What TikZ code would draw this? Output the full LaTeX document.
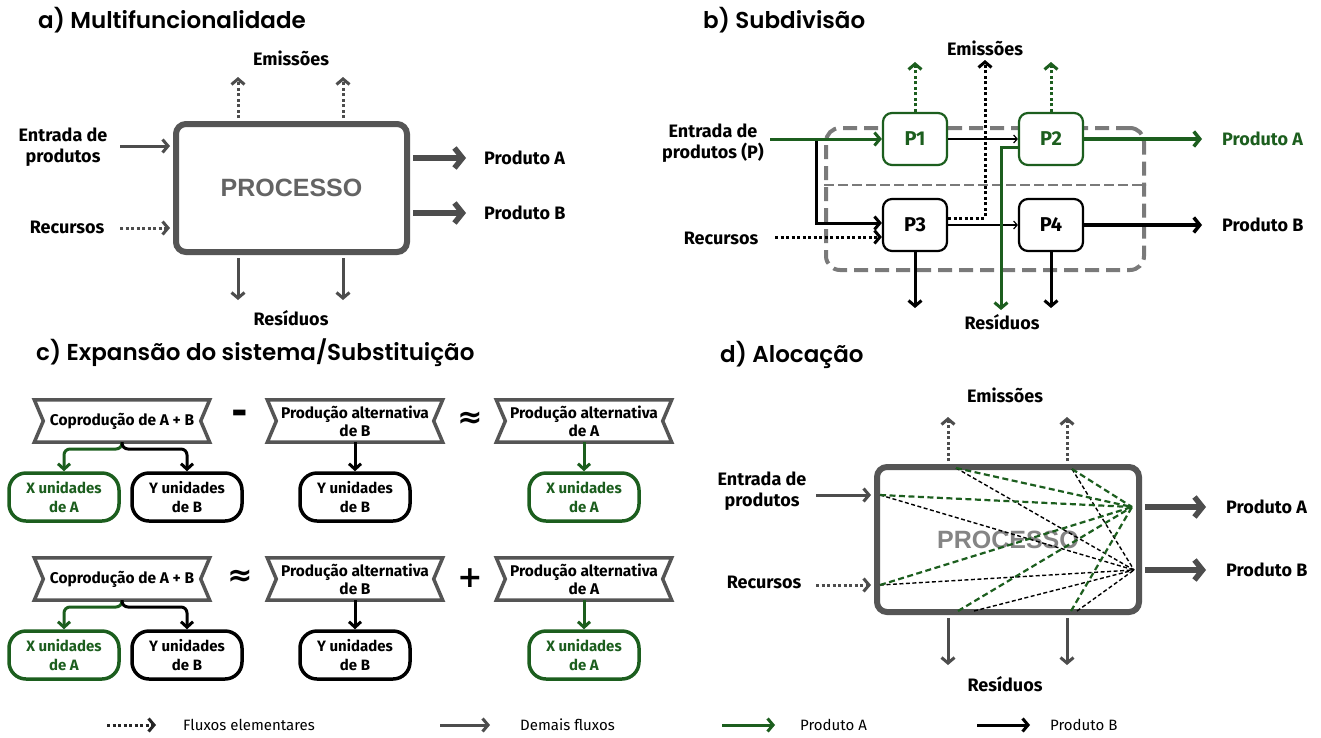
\documentclass[tikz,border=0pt]{standalone}
\usepackage{fontspec}
\setmainfont{Fira Sans}
\newfontfamily\titlefont{Poppins}[UprightFont={* SemiBold}, BoldFont={* SemiBold}]
\newfontfamily\procfont{Liberation Sans}
\newfontfamily\symfont{DejaVu Sans}
\usetikzlibrary{arrows.meta,calc}
\definecolor{gA}{HTML}{1C5E1E}
\definecolor{gd}{HTML}{4D4D4D}
\definecolor{bx}{HTML}{555555}
\definecolor{dbx}{HTML}{7A7A7A}
\definecolor{ptx}{HTML}{646464}
\definecolor{ptl}{HTML}{858585}
\tikzset{
  lbl/.style={font=\bfseries\fontsize{18}{21}\selectfont, align=center, inner sep=0pt},
  leg/.style={font=\fontsize{15}{17}\selectfont, inner sep=0pt, anchor=west},
  ttl/.style={font=\titlefont\fontsize{23}{26}\selectfont, anchor=west, inner sep=0pt},
  flw/.style={draw=gd, line width=3pt, -{Straight Barb[length=5.5pt,width=13pt]}},
  elm/.style={flw, dash pattern=on 3pt off 2.5pt},
  big/.style={draw=gd, line width=5.5pt, -{Straight Barb[length=8pt,width=20pt]}},
  blk/.style={draw=black, line width=3pt, -{Straight Barb[length=5.5pt,width=13pt]}},
  grn/.style={blk, draw=gA},
  elmK/.style={blk, dash pattern=on 3pt off 2.5pt},
  elmG/.style={grn, dash pattern=on 3pt off 2.5pt},
  thinK/.style={draw=black, line width=1.2pt, -{Straight Barb[length=3.5pt,width=8pt]}},
  bigK/.style={draw=black, line width=3.5pt, -{Straight Barb[length=6pt,width=15pt]}},
  bigG/.style={bigK, draw=gA},
  procbox/.style={draw=bx, line width=6pt, rounded corners=10pt, fill=white,
    font=\procfont\bfseries\fontsize{25}{28}\selectfont, text=ptx},
  pb/.style={draw=black, line width=2.2pt, rounded corners=9pt, minimum width=64, minimum height=52,
    fill=white, inner sep=0pt, font=\bfseries\fontsize{20}{22}\selectfont},
  ban/.style={minimum width=175, minimum height=42, inner sep=0pt, align=center,
    font=\bfseries\fontsize{15.5}{18}\selectfont},
  banline/.style={draw=bx, line width=3.5pt, line join=miter},
  pill/.style={draw=black, line width=3.5pt, rounded corners=17pt, minimum width=110, minimum height=48,
    inner sep=0pt, align=center, font=\bfseries\fontsize{15}{19}\selectfont},
  pillG/.style={pill, draw=gA, text=gA},
  arrK/.style={draw=black, line width=3pt, rounded corners=6pt, -{Straight Barb[length=5.5pt,width=12pt]}},
  arrG/.style={arrK, draw=gA},
  sym/.style={inner sep=0pt, font=\symfont\bfseries\fontsize{30}{30}\selectfont},
  dK/.style={draw=black, line width=1.4pt, dash pattern=on 4pt off 2.5pt},
  dG/.style={draw=gA, line width=2.2pt, dash pattern=on 6pt off 3.5pt},
}
\newcommand\bannerpath[1]{\draw[banline] (#1.north west) -- (#1.north east) -- ([xshift=-9pt]#1.east) -- (#1.south east) -- (#1.south west) -- ([xshift=9pt]#1.west) -- cycle;}
\begin{document}
\begin{tikzpicture}[x=1pt,y=-1pt]
\fill[white] (0,0) rectangle (1321,737);
\useasboundingbox (0,0) rectangle (1321,737);

% ---------------- a) ----------------
\node[ttl] (aT) at (38,20) {a) Multifuncionalidade};
\node[procbox, minimum width=231, minimum height=128] (aBox) at (291.5,188) {PROCESSO};
\node[lbl] (aInL) at (63,147) {Entrada de\\produtos};
\node[lbl] (aRecL) at (67,227) {Recursos};
\node[lbl] (aEmL) at (291,58) {Emissões};
\node[lbl] (aResL) at (291,318) {Resíduos};
\node[lbl, anchor=west] (aPA) at (484,158) {Produto A};
\node[lbl, anchor=west] (aPB) at (484,213) {Produto B};
\coordinate (aIn) at (120,146);
\coordinate (aRec) at (120,228);
\coordinate (aE1) at (238,77);
\coordinate (aE2) at (343,77);
\coordinate (aR1) at (238,300);
\coordinate (aR2) at (343,300);
\draw[flw, shorten >=3pt] (aIn) -- (aIn -| aBox.west);
\draw[elm, shorten >=3pt] (aRec) -- (aRec -| aBox.west);
\draw[elm, shorten <=3pt] (aE1 |- aBox.north) -- (aE1);
\draw[elm, shorten <=3pt] (aE2 |- aBox.north) -- (aE2);
\draw[flw, shorten <=3pt] (aR1 |- aBox.south) -- (aR1);
\draw[flw, shorten <=3pt] (aR2 |- aBox.south) -- (aR2);
\draw[big, shorten <=3pt] (aBox.east |- aPA) -- ([xshift=-18pt]aPA.west);
\draw[big, shorten <=3pt] (aBox.east |- aPB) -- ([xshift=-18pt]aPB.west);

% ---------------- b) ----------------
\node[ttl] (bT) at (703,20) {b) Subdivisão};
\node[draw=dbx, line width=4pt, dash pattern=on 14pt off 7pt, rounded corners=14pt,
  minimum width=318, minimum height=142] (bBox) at (985,199) {};
\coordinate (bSep) at (985,185);
\draw[draw=dbx, line width=2pt, dash pattern=on 10pt off 4pt] (bBox.west |- bSep) -- (bBox.east |- bSep);
\node[pb, draw=gA, text=gA] (P1) at (915,139) {P1};
\node[pb, draw=gA, text=gA] (P2) at (1051,139) {P2};
\node[pb] (P3) at (915,225) {P3};
\node[pb] (P4) at (1051,225) {P4};
\node[lbl] (bInL) at (713,143) {Entrada de\\produtos (P)};
\node[lbl] (bRecL) at (721,238) {Recursos};
\node[lbl] (bEmL) at (985,48) {Emissões};
\node[lbl] (bResL) at (1002,322) {Resíduos};
\node[lbl, anchor=west, text=gA] (bPA) at (1222,139) {Produto A};
\node[lbl, anchor=west] (bPB) at (1222,225) {Produto B};
\coordinate (bIn) at (770,139);
\coordinate (bBr) at (816,139);
\coordinate (bRec) at (775,237);
\coordinate (bE1) at (915,62);
\coordinate (bE2) at (985,60);
\coordinate (bR1) at (915,308);
\coordinate (bR2) at (1001,310);
\draw[blk] (bBr) |- ([yshift=2pt]P3.west);
\draw[grn] (bIn) -- (P1.west);
\draw[elmK] (bRec) -- (bRec -| P3.west);
\draw[thinK] (P1) -- (P2);
\draw[thinK] (P3) -- (P4);
\draw[bigG] (P2) -- ([xshift=-20pt]bPA.west);
\draw[bigK] (P4) -- ([xshift=-20pt]bPB.west);
\draw[elmG] (P1.north) -- (bE1);
\draw[elmG] (P2.north) -- (P2.north |- bE1);
\draw[elmK] ([yshift=7pt]P3.east) -| (bE2);
\draw[grn] ([yshift=-8pt]P2.west) -| (bR2);
\draw[blk] (P3.south) -- (bR1);
\draw[blk] (P4.south) -- (P4.south |- bR1);

% ---------------- c) ----------------
\node[ttl] (cT) at (36,353) {c) Expansão do sistema/Substituição};
% row 1
\node[ban] (b11) at (122,421) {Coprodução de A + B};
\node[ban] (b12) at (355,421) {Produção alternativa\\de B};
\node[ban] (b13) at (584,421) {Produção alternativa\\de A};
\bannerpath{b11}\bannerpath{b12}\bannerpath{b13}
\node[pillG] (XA11) at (64,497) {X unidades\\de A};
\node[pill] (YB11) at (187,497) {Y unidades\\de B};
\node[pill] (YB12) at (355,497) {Y unidades\\de B};
\node[pillG] (XA13) at (584,497) {X unidades\\de A};
\node[sym, font=\symfont\bfseries\fontsize{40}{40}\selectfont] (cM1) at (240,417) {-};
\node[sym] (cA1) at (470,420) {≈};
\coordinate (c1J) at (122,449);
\draw[arrG] (b11.south) -- (c1J) -| (XA11.north);
\draw[arrK] (b11.south) -- (c1J) -| (YB11.north);
\draw[arrK] (b12.south) -- (YB12.north);
\draw[arrG] (b13.south) -- (XA13.north);
% row 2
\node[ban] (b21) at (122,579) {Coprodução de A + B};
\node[ban] (b22) at (355,579) {Produção alternativa\\de B};
\node[ban] (b23) at (584,579) {Produção alternativa\\de A};
\bannerpath{b21}\bannerpath{b22}\bannerpath{b23}
\node[pillG] (XA21) at (64,655) {X unidades\\de A};
\node[pill] (YB21) at (187,655) {Y unidades\\de B};
\node[pill] (YB22) at (355,655) {Y unidades\\de B};
\node[pillG] (XA23) at (584,655) {X unidades\\de A};
\node[sym] (cA2) at (240,578) {≈};
\node[sym] (cP2) at (470,578) {+};
\coordinate (c2J) at (122,607);
\draw[arrG] (b21.south) -- (c2J) -| (XA21.north);
\draw[arrK] (b21.south) -- (c2J) -| (YB21.north);
\draw[arrK] (b22.south) -- (YB22.north);
\draw[arrG] (b23.south) -- (XA23.north);

% ---------------- d) ----------------
\node[ttl] (dT) at (720,355) {d) Alocação};
\node[procbox, text=ptl, minimum width=262, minimum height=145] (dBox) at (1008,539.5) {PROCESSO};
\node[lbl] (dInL) at (762,491) {Entrada de\\produtos};
\node[lbl] (dRecL) at (764,582) {Recursos};
\node[lbl] (dEmL) at (1005,395) {Emissões};
\node[lbl] (dResL) at (1005,684) {Resíduos};
\node[lbl, anchor=west] (dPA) at (1226,507) {Produto A};
\node[lbl, anchor=west] (dPB) at (1226,570) {Produto B};
\coordinate (dIn) at (816,495);
\coordinate (dRec) at (816,585);
\coordinate (dE1) at (948,417);
\coordinate (dE2) at (1067,417);
\coordinate (dR1) at (948,665);
\coordinate (dR2) at (1067,665);
\draw[flw, shorten >=3pt] (dIn) -- (dIn -| dBox.west);
\draw[elm, shorten >=3pt] (dRec) -- (dRec -| dBox.west);
\draw[elm, shorten <=3pt] (dE1 |- dBox.north) -- (dE1);
\draw[elm, shorten <=3pt] (dE2 |- dBox.north) -- (dE2);
\draw[flw, shorten <=3pt] (dR1 |- dBox.south) -- (dR1);
\draw[flw, shorten <=3pt] (dR2 |- dBox.south) -- (dR2);
\draw[big, shorten <=3pt] (dBox.east |- dPA) -- ([xshift=-20pt]dPA.west);
\draw[big, shorten <=3pt] (dBox.east |- dPB) -- ([xshift=-20pt]dPB.west);
% allocation lines
\coordinate (dT1) at (956,468);
\coordinate (dT2) at (1072,469);
\coordinate (dL1) at (880,495);
\coordinate (dL2) at (880,585);
\coordinate (dB1) at (958,611);
\coordinate (dB2) at (1071,611);
\coordinate (dB1k) at (974,611);
\coordinate (dB2k) at (1077,611);
\coordinate (dCA) at (1132,507);
\coordinate (dCB) at (1134,570);
\foreach \s in {dT1,dT2,dL1,dL2,dB1k,dB2k} \draw[dK] (\s) -- (dCB);
\foreach \s in {dT1,dT2,dL1,dL2,dB1,dB2} \draw[dG] (\s) -- (dCA);

% ---------------- legend ----------------
\node[leg] (l1) at (183,725) {Fluxos elementares};
\node[leg] (l2) at (520,725) {Demais fluxos};
\node[leg] (l3) at (800,725) {Produto A};
\node[leg] (l4) at (1050,725) {Produto B};
\coordinate (l1s) at (107,725);
\coordinate (l2s) at (440,725);
\coordinate (l3s) at (722,725);
\coordinate (l4s) at (977,725);
\draw[elmK, draw=black!85] (l1s) -- ([xshift=-27pt]l1.west);
\draw[flw] (l2s) -- ([xshift=-30pt]l2.west);
\draw[grn] (l3s) -- ([xshift=-25pt]l3.west);
\draw[blk] (l4s) -- ([xshift=-20pt]l4.west);
\end{tikzpicture}
\end{document}
